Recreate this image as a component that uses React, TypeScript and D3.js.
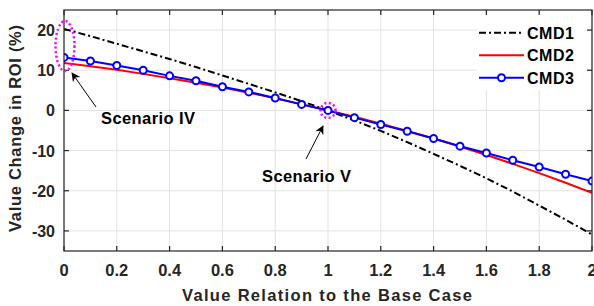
import React from "react";
import * as d3 from "d3";

const xValues = [0, 0.1, 0.2, 0.3, 0.4, 0.5, 0.6, 0.7, 0.8, 0.9, 1.0, 1.1, 1.2, 1.3, 1.4, 1.5, 1.6, 1.7, 1.8, 1.9, 2.0];
const cmd1 = [20.3, 18.5, 16.6, 14.7, 12.8, 10.8, 8.7, 6.6, 4.5, 2.3, 0, -2.5, -5.1, -7.9, -10.8, -13.8, -16.9, -20.2, -23.7, -27.2, -30.9];
const cmd2 = [11.8, 11.0, 10.1, 9.1, 8.0, 6.9, 5.7, 4.4, 3.0, 1.5, 0, -1.6, -3.3, -5.1, -7.0, -9.0, -11.1, -13.3, -15.6, -18.0, -20.5];
const cmd3 = [13.2, 12.3, 11.2, 10.0, 8.6, 7.4, 5.9, 4.6, 3.1, 1.5, 0, -1.8, -3.5, -5.2, -7.0, -8.9, -10.6, -12.4, -14.1, -15.9, -17.6];
const xTicks = [0, 0.2, 0.4, 0.6, 0.8, 1, 1.2, 1.4, 1.6, 1.8, 2];
const yTicks = [-30, -20, -10, 0, 10, 20];
const seriesNames = ["CMD1", "CMD2", "CMD3"];

const W = 594, H = 306;
const L = 64, R = 592, T = 10, B = 251;
const FONT = "'Liberation Sans', Arial, sans-serif";
const TXT = "#262626";

export default function App() {
  const x = d3.scaleLinear().domain([0, 2]).range([L, R]);
  const y = d3.scaleLinear().domain([-35, 25]).range([B, T]);
  const line = (vals: number[]) =>
    d3.line<number>().x((_, i) => x(xValues[i])).y((v) => y(v))(vals) || "";

  return (
    <svg width={W} height={H} style={{ position: "absolute", left: 0, top: 0, background: "#fff" }}>
      <defs>
        <marker id="ah" viewBox="0 0 10 10" refX="9" refY="5" markerWidth="12" markerHeight="9" orient="auto" markerUnits="userSpaceOnUse">
          <path d="M0,0 L10,5 L0,10 L3,5 z" fill="#000" />
        </marker>
        <clipPath id="plot">
          <rect x={L} y={T} width={R - L} height={B - T} />
        </clipPath>
      </defs>
      <rect x={0} y={0} width={W} height={H} fill="#fff" />
      {/* grid */}
      {xTicks.map((t) => (
        <line key={"gx" + t} x1={x(t)} x2={x(t)} y1={T} y2={B} stroke="#e3e3e3" strokeWidth={1} />
      ))}
      {yTicks.map((t) => (
        <line key={"gy" + t} x1={L} x2={R} y1={y(t)} y2={y(t)} stroke="#e3e3e3" strokeWidth={1} />
      ))}
      {/* legend background */}
      <rect x={477} y={13} width={111} height={77} fill="#fff" />
      {/* ticks */}
      {xTicks.map((t) => (
        <g key={"tx" + t}>
          <line x1={x(t)} x2={x(t)} y1={B} y2={B - 5} stroke={TXT} strokeWidth={1.2} />
          <line x1={x(t)} x2={x(t)} y1={T} y2={T + 5} stroke={TXT} strokeWidth={1.2} />
          <text x={x(t)} y={276} textAnchor="middle" fontFamily={FONT} fontWeight="bold" fontSize={16.5} fill={TXT}>
            {String(t)}
          </text>
        </g>
      ))}
      {yTicks.map((t) => (
        <g key={"ty" + t}>
          <line x1={L} x2={L + 5} y1={y(t)} y2={y(t)} stroke={TXT} strokeWidth={1.2} />
          <line x1={R} x2={R - 5} y1={y(t)} y2={y(t)} stroke={TXT} strokeWidth={1.2} />
          <text x={55} y={y(t) + 6} textAnchor="end" fontFamily={FONT} fontWeight="bold" fontSize={16} fill={TXT}>
            {String(t)}
          </text>
        </g>
      ))}
      {/* series */}
      <g clipPath="url(#plot)">
        <path d={line(cmd1)} fill="none" stroke="#000" strokeWidth={2} strokeDasharray="7,3,2,3" />
        <path d={line(cmd2)} fill="none" stroke="#ff0000" strokeWidth={2} />
        <path d={line(cmd3)} fill="none" stroke="#0000ff" strokeWidth={2} />
        {cmd3.map((v, i) => (
          <circle key={"m" + i} cx={x(xValues[i])} cy={y(v)} r={3.5} fill="#fff" stroke="#0000ff" strokeWidth={2} />
        ))}
      </g>
      {/* axes box */}
      <rect x={L} y={T} width={R - L} height={B - T} fill="none" stroke={TXT} strokeWidth={1.2} />
      {/* annotations */}
      <ellipse cx={x(0) + 1} cy={46} rx={9.5} ry={25} fill="none" stroke="#ff00ff" strokeWidth={2.5} strokeDasharray="2,2.5" />
      <circle cx={x(1)} cy={y(0)} r={7.5} fill="none" stroke="#ff00ff" strokeWidth={2.5} strokeDasharray="2,2.5" />
      <line x1={96} y1={107} x2={72} y2={73} stroke="#000" strokeWidth={1} markerEnd="url(#ah)" />
      <line x1={306} y1={159} x2={323} y2={126} stroke="#000" strokeWidth={1} markerEnd="url(#ah)" />
      <text x={101} y={124} fontFamily={FONT} fontWeight="bold" fontSize={16.5} fill="#000" textLength={94} lengthAdjust="spacing">Scenario IV</text>
      <text x={262} y={181.5} fontFamily={FONT} fontWeight="bold" fontSize={16.5} fill="#000" textLength={89} lengthAdjust="spacing">Scenario V</text>
      {/* legend */}
      {seriesNames.map((n, i) => {
        const ly = 32.7 + i * 22.5;
        return (
          <g key={n}>
            {i === 0 && <line x1={479} x2={524} y1={ly} y2={ly} stroke="#000" strokeWidth={2} strokeDasharray="7,3,2,3" />}
            {i === 1 && <line x1={479} x2={524} y1={ly} y2={ly} stroke="#ff0000" strokeWidth={2} />}
            {i === 2 && (
              <g>
                <line x1={479} x2={524} y1={ly} y2={ly} stroke="#0000ff" strokeWidth={2} />
                <circle cx={501.5} cy={ly} r={3.5} fill="#fff" stroke="#0000ff" strokeWidth={2} />
              </g>
            )}
            <text x={527} y={ly + 6} fontFamily={FONT} fontWeight="bold" fontSize={16} fill="#000" textLength={47} lengthAdjust="spacing">{n}</text>
          </g>
        );
      })}
      {/* axis labels */}
      <text x={327} y={300.5} textAnchor="middle" fontFamily={FONT} fontWeight="bold" fontSize={16.5} fill={TXT} textLength={290} lengthAdjust="spacing">
        Value Relation to the Base Case
      </text>
      <text transform="translate(20.7,128.5) rotate(-90)" textAnchor="middle" fontFamily={FONT} fontWeight="bold" fontSize={16.5} fill={TXT} textLength={207} lengthAdjust="spacing">
        Value Change in ROI (%)
      </text>
    </svg>
  );
}
